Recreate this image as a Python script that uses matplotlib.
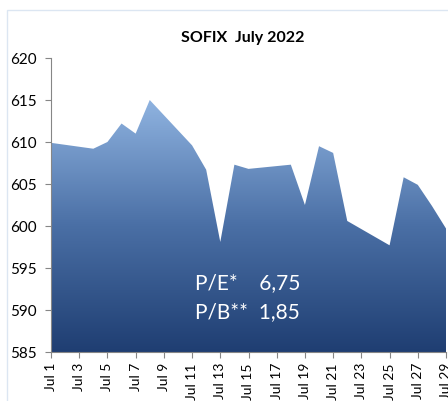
import datetime as dt
import numpy as np
import matplotlib
matplotlib.use("Agg")
import matplotlib.pyplot as plt
import matplotlib.dates as mdates
from matplotlib.colors import LinearSegmentedColormap
from matplotlib.patches import Rectangle

plt.rcParams['font.family'] = ['Lato', 'DejaVu Sans']

# trading days of July 2022 and SOFIX close values
days = [1, 4, 5, 6, 7, 8, 11, 12, 13, 14, 15, 18, 19, 20, 21, 22, 25, 26, 27, 28, 29]
values = [609.9, 609.2, 610.0, 612.2, 611.0, 615.0, 609.6, 606.7, 598.1, 607.3, 606.8,
          607.3, 602.5, 609.5, 608.7, 600.6, 597.7, 605.8, 604.9, 602.4, 599.7]
tick_days = list(range(1, 30, 2))
pe_text = "P/E*    6,75"
pb_text = "P/B**  1,85"

dates = [dt.datetime(2022, 7, d) for d in days]
x = mdates.date2num(dates)
ymin, ymax = 585, 620

fig = plt.figure(figsize=(4.48, 4.01), dpi=100)
# light frame around chart area
fig.patches.append(Rectangle((7 / 448, -0.1), 1.2, 1 - 10 / 401 + 0.1, transform=fig.transFigure,
                             fill=False, edgecolor='#dce6f2', linewidth=1))
ax = fig.add_axes([51 / 448, 49 / 401, 395 / 448, 294 / 401])
ax.patch.set_alpha(0)

# gradient fill clipped to area polygon
cmap = LinearSegmentedColormap.from_list('g', ['#1f3e72', '#4a6fa5', '#8fb3e0'])
grad = np.linspace(0, 1, 256).reshape(-1, 1)
poly = ax.fill_between(x, values, ymin, color='none', linewidth=0)
img = ax.imshow(grad, cmap=cmap, aspect='auto', origin='lower',
                extent=[x[0], x[-1], ymin, max(values)], zorder=1)
img.set_clip_path(poly.get_paths()[0], transform=ax.transData)

ax.set_xlim(x[0], x[-1])
ax.set_ylim(ymin, ymax)
ax.set_yticks(range(585, 621, 5))
ax.set_xticks(mdates.date2num([dt.datetime(2022, 7, d) for d in tick_days]))
ax.set_xticklabels([f"Jul {d}" for d in tick_days], rotation=90, fontsize=10)
ax.tick_params(axis='y', labelsize=11, length=4, color='#868686', pad=6)
ax.tick_params(axis='x', length=4, color='#868686', pad=4)
for s in ['top', 'right']:
    ax.spines[s].set_visible(False)
for s in ['left', 'bottom']:
    ax.spines[s].set_color('#868686')
    ax.spines[s].set_zorder(3)

ax.text(0.365, 0.215, pe_text, transform=ax.transAxes, color='white', fontsize=15)
ax.text(0.365, 0.115, pb_text, transform=ax.transAxes, color='white', fontsize=15)

fig.text(243 / 448, 1 - 38 / 401, "SOFIX  July 2022", ha='center', va='center',
         fontsize=11.5, fontweight='bold')

fig.savefig("out.png", dpi=100)
